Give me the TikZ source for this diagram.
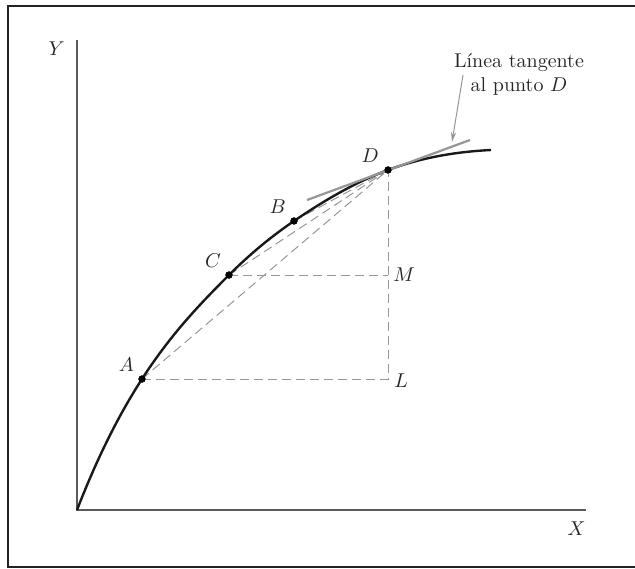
\documentclass[tikz,border=0pt]{standalone}
\usepackage{xcolor}
\usepackage{tikz}
\usetikzlibrary{arrows.meta,positioning}
\definecolor{FrameBlack}{RGB}{35,35,35}
\definecolor{AxisGray}{RGB}{90,90,90}
\definecolor{GuideGray}{RGB}{150,150,150}
\definecolor{TangentGray}{RGB}{150,150,150}

\begin{document}
\begin{tikzpicture}[x=0.5pt, y=0.5pt,
    frameline/.style={FrameBlack, line width=1.1pt},
    axisline/.style={AxisGray, line width=0.9pt},
    guide/.style={GuideGray, line width=0.5pt, dash pattern=on 4.5pt off 2.5pt},
    curveline/.style={black!90, line width=1.2pt},
    tangentline/.style={TangentGray, line width=1.1pt},
    pointer/.style={TangentGray, line width=0.5pt, -{Stealth[length=5pt,width=2.6pt]}},
    dot/.style={circle, fill=black, inner sep=0pt, minimum size=3.6pt},
    ptlabel/.style={inner sep=0pt, text=black!85}]
    \useasboundingbox (-77,-58) rectangle (558,510);
    \draw[frameline] (-69,-57) rectangle (565,504);
    % axes
    \coordinate (O) at (0,0);
    \coordinate (ytop) at (0,470);
    \coordinate (xend) at (509,0);
    \draw[axisline] (ytop) -- (O) -- (xend);
    \node[ptlabel, below left=0.5pt and 6pt of ytop] (ylab) {$Y$};
    \node[ptlabel, below left=5.5pt and 0pt of xend] (xlab) {$X$};
    % points on the curve
    \node[dot] (A) at (65,131) {};
    \node[dot] (C) at (152,235) {};
    \node[dot] (B) at (217,289) {};
    \node[dot] (D) at (311,340) {};
    \coordinate (cend) at (414,360);
    \coordinate (M) at (D |- C);
    \coordinate (L) at (D |- A);
    % dashed chords
    \draw[guide] (A.center) -- (L) -- (D.center);
    \draw[guide] (C.center) -- (M);
    \draw[guide] (A.center) -- (D.center);
    \draw[guide] (C.center) -- (D.center);
    \draw[guide] (B.center) -- (D.center);
    % curve and tangent
    \draw[curveline] (O) .. controls (21.7,56) and (43.3,97.4) .. (A.center)
        .. controls (94,176) and (123,206) .. (C.center)
        .. controls (173.7,256.7) and (195.3,274.2) .. (B.center)
        .. controls (248.3,310.3) and (279.7,328.4) .. (D.center)
        .. controls (345.3,352.7) and (379.7,358.3) .. (cend);
    \coordinate (tanL) at (230,310);
    \coordinate (tanR) at (393,370);
    \draw[tangentline] (tanL) -- (tanR);
    \node[dot] at (A) {};
    \node[dot] at (C) {};
    \node[dot] at (B) {};
    \node[dot] at (D) {};
    % labels
    \node[ptlabel, above left=2.3pt and 2.5pt of A] (labA) {$A$};
    \node[ptlabel, above left=2.3pt and 2.5pt of C] (labC) {$C$};
    \node[ptlabel, above left=2.3pt and 2.5pt of B] (labB) {$B$};
    \node[ptlabel, above left=2.3pt and 3pt of D] (labD) {$D$};
    \node[ptlabel, right=2.5pt of M] (labM) {$M$};
    \node[ptlabel, right=3pt of L, yshift=-1pt] (labL) {$L$};
    % note
    \node[align=center, inner sep=0pt, text=black!85] (note) at (442,436)
        {L\'{\i}nea tangente\\al punto $D$};
    \coordinate (ptail) at (386,435);
    \coordinate (phead) at (375,368);
    \draw[pointer] (ptail) -- (phead);
\end{tikzpicture}
\end{document}
